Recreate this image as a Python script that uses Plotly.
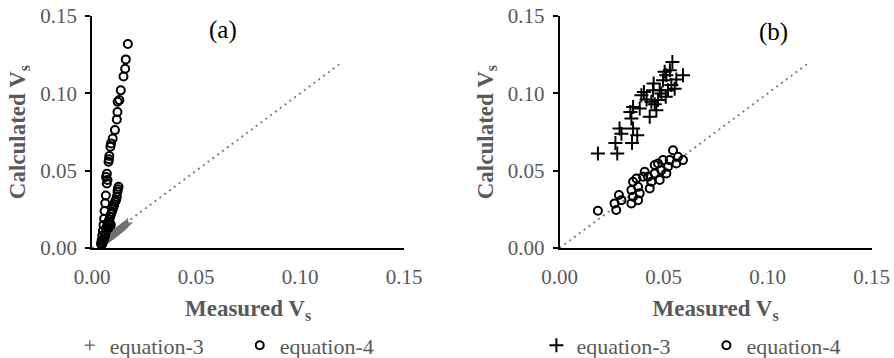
import plotly.graph_objects as go

# ---- panel (a) ----
a_eq3_x = [0.0042, 0.0045, 0.0048, 0.0050, 0.0053, 0.0055, 0.0058, 0.0060, 0.0063, 0.0066,
           0.0068, 0.0071, 0.0074, 0.0077, 0.0080, 0.0083, 0.0086, 0.0089, 0.0092, 0.0095,
           0.0098, 0.0101, 0.0105, 0.0109, 0.0113, 0.0117, 0.0121, 0.0126, 0.0131, 0.0136,
           0.0142, 0.0148, 0.0155, 0.0162, 0.0170]
a_eq3_y = [0.0030, 0.0034, 0.0036, 0.0040, 0.0042, 0.0046, 0.0047, 0.0050, 0.0052, 0.0055,
           0.0058, 0.0060, 0.0062, 0.0066, 0.0068, 0.0070, 0.0074, 0.0076, 0.0079, 0.0082,
           0.0086, 0.0088, 0.0092, 0.0096, 0.0100, 0.0104, 0.0108, 0.0113, 0.0118, 0.0124,
           0.0130, 0.0136, 0.0144, 0.0152, 0.0162]

a_eq4_x = [0.0172, 0.0162, 0.0159, 0.0151, 0.0138, 0.0131, 0.0123, 0.0122, 0.0119, 0.0110,
           0.0099, 0.0091, 0.0088, 0.0083, 0.0081, 0.0079, 0.0071, 0.0067, 0.0074, 0.0071,
           0.0066, 0.0063, 0.0060, 0.0058, 0.0055, 0.0052, 0.0049, 0.0046, 0.0043,
           0.0127, 0.0124, 0.0122, 0.0119, 0.0115, 0.0110, 0.0106, 0.0103, 0.0099, 0.0095,
           0.0091, 0.0087, 0.0083, 0.0079, 0.0075, 0.0071, 0.0068, 0.0065, 0.0062, 0.0058,
           0.0054, 0.0050, 0.0046, 0.0085, 0.0090, 0.0080]
a_eq4_y = [0.1320, 0.1220, 0.1160, 0.1110, 0.1020, 0.0957, 0.0946, 0.0880, 0.0832, 0.0763,
           0.0709, 0.0677, 0.0655, 0.0595, 0.0575, 0.0558, 0.0480, 0.0460, 0.0440, 0.0418,
           0.0340, 0.0290, 0.0240, 0.0190, 0.0150, 0.0110, 0.0080, 0.0050, 0.0030,
           0.0396, 0.0380, 0.0364, 0.0332, 0.0310, 0.0300, 0.0280, 0.0267, 0.0250, 0.0235,
           0.0220, 0.0202, 0.0185, 0.0170, 0.0155, 0.0138, 0.0120, 0.0100, 0.0080, 0.0060,
           0.0045, 0.0030, 0.0020, 0.0160, 0.0150, 0.0130]

# ---- panel (b) ----
b_eq3_x = [0.0184, 0.0277, 0.0268, 0.0288, 0.0297, 0.0348, 0.0353, 0.0345, 0.0353, 0.0373,
           0.0385, 0.0393, 0.0405, 0.0433, 0.0441, 0.0449, 0.0452, 0.0465, 0.0473, 0.0481,
           0.0497, 0.0505, 0.0513, 0.0510, 0.0521, 0.0537, 0.0542, 0.0553, 0.0561, 0.0593,
           0.0340, 0.0418, 0.0457, 0.0489, 0.0530]
b_eq3_y = [0.0612, 0.0612, 0.0680, 0.0774, 0.0740, 0.0680, 0.0774, 0.0838, 0.0913, 0.0730,
           0.0903, 0.0989, 0.1010, 0.0849, 0.0946, 0.1020, 0.1065, 0.0892, 0.0957, 0.1020,
           0.1086, 0.1140, 0.1118, 0.0978, 0.1020, 0.1054, 0.1204, 0.1030, 0.1090, 0.1118,
           0.0880, 0.0960, 0.0930, 0.1000, 0.1150]

b_eq4_x = [0.0184, 0.0272, 0.0264, 0.0285, 0.0297, 0.0345, 0.0353, 0.0345, 0.0353, 0.0377,
           0.0385, 0.0377, 0.0401, 0.0409, 0.0433, 0.0441, 0.0457, 0.0457, 0.0481, 0.0489,
           0.0497, 0.0513, 0.0521, 0.0529, 0.0545, 0.0561, 0.0593, 0.0569, 0.0473, 0.0425,
           0.0369]
b_eq4_y = [0.0241, 0.0246, 0.0289, 0.0343, 0.0310, 0.0289, 0.0332, 0.0375, 0.0429, 0.0310,
           0.0354, 0.0396, 0.0461, 0.0493, 0.0386, 0.0429, 0.0483, 0.0537, 0.0440, 0.0504,
           0.0569, 0.0483, 0.0526, 0.0569, 0.0633, 0.0547, 0.0569, 0.0590, 0.0547, 0.0461,
           0.0450]

# 1:1 reference line
ref_x = [0.0, 0.12]
ref_y = [0.0, 0.12]

tick_vals = [0.0, 0.05, 0.10, 0.15]
tick_text = ["0.00", "0.05", "0.10", "0.15"]

series_names = ["equation-3", "equation-4"]

SERIF = "Liberation Serif"
GREY = "#595959"

fig = go.Figure()

circle = dict(symbol="circle-open", size=8, color="black", line=dict(width=2, color="black"))

# panel (a)
fig.add_trace(go.Scatter(x=ref_x, y=ref_y, mode="lines", xaxis="x", yaxis="y",
                         line=dict(color="#808080", width=2, dash="2px,4px"),
                         showlegend=False, hoverinfo="skip"))
fig.add_trace(go.Scatter(x=a_eq3_x, y=a_eq3_y, mode="markers", name=series_names[0],
                         xaxis="x", yaxis="y", legend="legend",
                         marker=dict(symbol="cross-thin", size=7, color="#707070",
                                     line=dict(width=1.5, color="#707070"))))
fig.add_trace(go.Scatter(x=a_eq4_x, y=a_eq4_y, mode="markers", name=series_names[1],
                         xaxis="x", yaxis="y", legend="legend", marker=circle))

# panel (b)
fig.add_trace(go.Scatter(x=ref_x, y=ref_y, mode="lines", xaxis="x2", yaxis="y2",
                         line=dict(color="#808080", width=2, dash="2px,4px"),
                         showlegend=False, hoverinfo="skip"))
fig.add_trace(go.Scatter(x=b_eq3_x, y=b_eq3_y, mode="markers", name=series_names[0],
                         xaxis="x2", yaxis="y2", legend="legend2",
                         marker=dict(symbol="cross-thin", size=10, color="black",
                                     line=dict(width=2, color="black"))))
fig.add_trace(go.Scatter(x=b_eq4_x, y=b_eq4_y, mode="markers", name=series_names[1],
                         xaxis="x2", yaxis="y2", legend="legend2", marker=circle))


def xaxis(domain, anchor):
    return dict(domain=domain, anchor=anchor, range=[0, 0.15], tickvals=tick_vals,
                ticktext=tick_text, showgrid=False, zeroline=False, showline=True,
                linecolor="black", linewidth=2, ticks="", ticklabelstandoff=9,
                tickfont=dict(family=SERIF, size=21, color=GREY),
                title=dict(text="<b>Measured V<sub>s</sub></b>", standoff=12,
                           font=dict(family=SERIF, size=23, color=GREY)))


def yaxis(anchor):
    return dict(domain=[0.307, 0.955], anchor=anchor, range=[0, 0.15], tickvals=tick_vals,
                ticktext=tick_text, showgrid=False, zeroline=False, showline=True,
                linecolor="black", linewidth=2, ticks="outside", ticklen=5, tickwidth=2,
                tickcolor="black", ticklabelstandoff=4,
                tickfont=dict(family=SERIF, size=21, color=GREY),
                title=dict(text="<b>Calculated V<sub>s</sub></b>", standoff=8,
                           font=dict(family=SERIF, size=23, color=GREY)))


def legend_at(x):
    return dict(orientation="h", font=dict(family=SERIF, size=22, color=GREY),
                bgcolor="rgba(0,0,0,0)", entrywidth=125, entrywidthmode="pixels",
                itemwidth=30, yanchor="middle", xanchor="left", x=x, y=0.035)


fig.update_layout(
    width=894, height=358,
    margin=dict(l=0, r=0, t=0, b=0, autoexpand=False),
    paper_bgcolor="white", plot_bgcolor="white",
    font=dict(family=SERIF, color=GREY),
    xaxis=xaxis([0.103, 0.452], "y"),
    yaxis=yaxis("x"),
    xaxis2=xaxis([0.626, 0.975], "y2"),
    yaxis2=yaxis("x2"),
    legend=legend_at(0.078),
    legend2=legend_at(0.600),
    annotations=[
        dict(text="(a)", xref="x", yref="y", x=0.063, y=0.141, showarrow=False,
             font=dict(family=SERIF, size=25, color="black"), xanchor="center", yanchor="middle"),
        dict(text="(b)", xref="x2", yref="y2", x=0.103, y=0.140, showarrow=False,
             font=dict(family=SERIF, size=25, color="black"), xanchor="center", yanchor="middle"),
    ],
)

fig.write_html("out.html")
